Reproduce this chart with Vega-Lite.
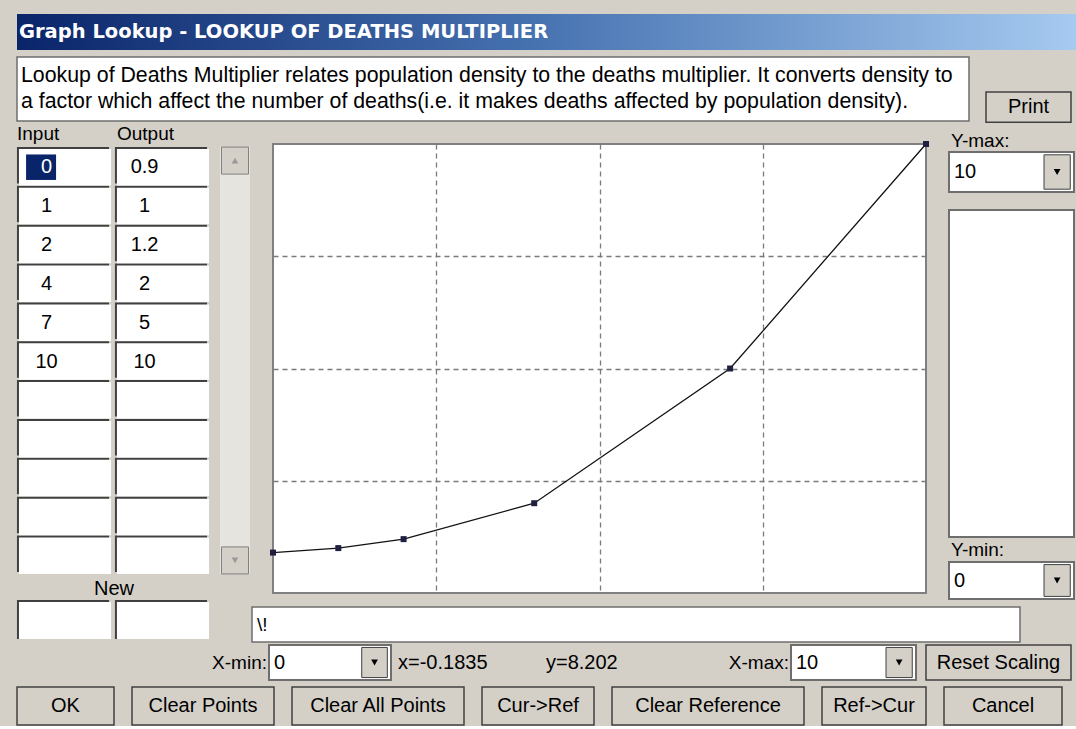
{
  "$schema": "https://vega.github.io/schema/vega-lite/v6.json",
  "background": "#d4d0c8",
  "padding": {"left": 16, "top": 14, "right": 0, "bottom": 0},
  "config": {
    "view": {"stroke": null},
    "text": {"font": "Liberation Sans", "fontSize": 20, "color": "#000000"}
  },
  "datasets": {
    "lookup": [
      {"input": 0, "output": 0.9},
      {"input": 1, "output": 1},
      {"input": 2, "output": 1.2},
      {"input": 4, "output": 2},
      {"input": 7, "output": 5},
      {"input": 10, "output": 10}
    ],
    "table": [
      {"row": 1, "Input": "0", "Output": "0.9"},
      {"row": 2, "Input": "1", "Output": "1"},
      {"row": 3, "Input": "2", "Output": "1.2"},
      {"row": 4, "Input": "4", "Output": "2"},
      {"row": 5, "Input": "7", "Output": "5"},
      {"row": 6, "Input": "10", "Output": "10"},
      {"row": 7, "Input": "", "Output": ""},
      {"row": 8, "Input": "", "Output": ""},
      {"row": 9, "Input": "", "Output": ""},
      {"row": 10, "Input": "", "Output": ""},
      {"row": 11, "Input": "", "Output": ""}
    ]
  },
  "spacing": 0,
  "vconcat": [
    {
      "width": 1060, "height": 36,
      "data": {"values": [{"title": "Graph Lookup - LOOKUP OF DEATHS MULTIPLIER"}]},
      "layer": [
        {
          "mark": {"type": "rect", "color": {"gradient": "linear", "x1": 0, "x2": 1, "y1": 0, "y2": 0, "stops": [{"offset": 0, "color": "#0a246a"}, {"offset": 0.5, "color": "#4874b2"}, {"offset": 1, "color": "#a6caf0"}]}},
          "encoding": {
            "x": {"datum": 0, "type": "quantitative", "scale": {"domain": [0, 1]}, "axis": null},
            "x2": {"datum": 1},
            "y": {"datum": 0, "type": "quantitative", "scale": {"domain": [0, 1]}, "axis": null},
            "y2": {"datum": 1}
          }
        },
        {
          "mark": {"type": "text", "align": "left", "dx": 2, "font": "DejaVu Sans", "fontWeight": "bold", "fontSize": 19.5, "color": "#ffffff"},
          "encoding": {
            "text": {"field": "title"},
            "x": {"datum": 0, "type": "quantitative", "axis": null}
          }
        }
      ]
    },
    {"width": 1, "height": 6, "data": {"values": [{}]}, "mark": {"type": "point", "size": 0, "opacity": 0}, "encoding": {}},
    {
      "hconcat": [
        {
          "width": 952, "height": 64,
          "view": {"fill": "#ffffff", "stroke": "#6e6e6e", "strokeWidth": 1.5},
          "data": {"values": [
            {"line": 1, "text": "Lookup of Deaths Multiplier relates population density to the deaths multiplier.  It converts density to"},
            {"line": 2, "text": "a factor which affect the number of deaths(i.e. it makes deaths affected by population density)."}
          ]},
          "mark": {"type": "text", "align": "left", "dx": 4, "fontSize": 21.3},
          "encoding": {
            "text": {"field": "text"},
            "x": {"datum": 0, "type": "quantitative", "scale": {"domain": [0, 1]}, "axis": null},
            "y": {"field": "line", "type": "ordinal", "axis": null, "scale": {"type": "point", "padding": 0.7}}
          }
        },
        {
          "width": 85, "height": 66,
          "data": {"values": [{"label": "Print"}]},
          "layer": [
            {
              "mark": {"type": "rect", "fill": "#d4d0c8", "stroke": "#404040", "strokeWidth": 1.5},
              "encoding": {
                "x": {"datum": 0, "type": "quantitative", "scale": {"domain": [0, 1]}, "axis": null},
                "x2": {"datum": 1},
                "y": {"datum": 0.01, "type": "quantitative", "scale": {"domain": [0, 1]}, "axis": null},
                "y2": {"datum": 0.47}
              }
            },
            {
              "mark": {"type": "text", "fontSize": 20},
              "encoding": {
                "text": {"field": "label"},
                "y": {"datum": 0.24, "type": "quantitative", "axis": null}
              }
            }
          ]
        }
      ],
      "spacing": 17,
      "bounds": "flush"
    },
    {
      "hconcat": [
        {
          "vconcat": [
            {
              "width": 194, "height": 20,
              "data": {"values": [{"col": "Input"}, {"col": "Output"}]},
              "mark": {"type": "text", "align": "left", "fontSize": 19},
              "encoding": {
                "text": {"field": "col"},
                "x": {"field": "col", "type": "nominal", "axis": null, "bandPosition": 0, "scale": {"type": "band", "paddingInner": 0.06, "paddingOuter": 0}}
              }
            },
            {
              "width": 194, "height": 429,
              "data": {"name": "table"},
              "transform": [{"fold": ["Input", "Output"], "as": ["col", "val"]}],
              "encoding": {
                "x": {"field": "col", "type": "nominal", "axis": null, "scale": {"type": "band", "paddingInner": 0.06, "paddingOuter": 0.02}},
                "y": {"field": "row", "type": "ordinal", "axis": null, "scale": {"type": "band", "paddingInner": 0.06, "paddingOuter": 0.05}}
              },
              "layer": [
                {"mark": {"type": "rect", "fill": "#404040", "xOffset": -2, "yOffset": -2}},
                {"mark": {"type": "rect", "fill": "#ffffff"}},
                {
                  "transform": [{"filter": "datum.row == 1 && datum.col == 'Input'"}],
                  "mark": {"type": "point", "shape": "M-1,-0.85L1,-0.85L1,0.85L-1,0.85Z", "size": 900, "filled": true, "color": "#0a246a", "opacity": 1},
                  "encoding": {
                    "x": {"field": "col", "type": "nominal", "bandPosition": 0.24},
                    "y": {"field": "row", "type": "ordinal", "bandPosition": 0.5}
                  }
                },
                {
                  "mark": {"type": "text", "fontSize": 20},
                  "encoding": {
                    "x": {"field": "col", "type": "nominal", "bandPosition": 0.3},
                    "y": {"field": "row", "type": "ordinal", "bandPosition": 0.5},
                    "text": {"field": "val"},
                    "color": {"condition": {"test": "datum.row == 1 && datum.col == 'Input'", "value": "#ffffff"}, "value": "#000000"}
                  }
                }
              ]
            },
            {
              "width": 194, "height": 20,
              "data": {"values": [{"t": "New"}]},
              "mark": {"type": "text", "fontSize": 20},
              "encoding": {"text": {"field": "t"}}
            },
            {
              "width": 194, "height": 37,
              "data": {"values": [{"col": "Input"}, {"col": "Output"}]},
              "encoding": {
                "x": {"field": "col", "type": "nominal", "axis": null, "scale": {"type": "band", "paddingInner": 0.06, "paddingOuter": 0.02}}
              },
              "layer": [
                {"mark": {"type": "rect", "fill": "#404040", "xOffset": -2, "yOffset": -2}},
                {"mark": {"type": "rect", "fill": "#ffffff"}}
              ]
            }
          ],
          "spacing": 3,
          "bounds": "flush"
        },
        {
          "vconcat": [
            {
              "hconcat": [
                {
                  "vconcat": [
                    {"width": 30, "height": 20, "data": {"values": [{}]}, "mark": {"type": "point", "size": 0, "opacity": 0}, "encoding": {}},
                    {
                      "width": 30, "height": 427,
                      "view": {"fill": "#e6e4df"},
                      "data": {"values": [{"dir": "up"}, {"dir": "down"}]},
                      "encoding": {
                        "y": {"field": "dir", "type": "nominal", "axis": null, "sort": ["up", "down"], "scale": {"type": "point", "padding": 0.034}}
                      },
                      "layer": [
                        {"mark": {"type": "square", "size": 729, "color": "#d4d0c8", "opacity": 1, "stroke": "#808080", "strokeWidth": 1}},
                        {
                          "mark": {"type": "point", "filled": true, "size": 45, "color": "#9a9a9a", "opacity": 1},
                          "encoding": {"shape": {"field": "dir", "type": "nominal", "scale": {"domain": ["up", "down"], "range": ["triangle-up", "triangle-down"]}, "legend": null}}
                        }
                      ]
                    }
                  ],
                  "spacing": 3,
                  "bounds": "flush"
                },
                {
                  "vconcat": [
                    {"width": 653, "height": 20, "data": {"values": [{}]}, "mark": {"type": "point", "size": 0, "opacity": 0}, "encoding": {}},
                    {
                      "width": 653, "height": 449,
                      "view": {"fill": "#ffffff", "stroke": "#808080", "strokeWidth": 2},
                      "data": {"name": "lookup"},
                      "encoding": {
                        "x": {"field": "input", "type": "quantitative", "title": null, "scale": {"domain": [0, 10], "nice": false, "zero": false},
                              "axis": {"values": [2.5, 5, 7.5], "grid": true, "labels": false, "ticks": false, "domain": false, "gridDash": [5, 4], "gridColor": "#7a7a7a", "gridWidth": 1.3, "gridOpacity": 1}},
                        "y": {"field": "output", "type": "quantitative", "title": null, "scale": {"domain": [0, 10], "nice": false, "zero": false},
                              "axis": {"values": [2.5, 5, 7.5], "grid": true, "labels": false, "ticks": false, "domain": false, "gridDash": [5, 4], "gridColor": "#7a7a7a", "gridWidth": 1.3, "gridOpacity": 1}}
                      },
                      "layer": [
                        {"mark": {"type": "line", "color": "#111111", "strokeWidth": 1.3}},
                        {"mark": {"type": "square", "size": 36, "color": "#1f2040", "opacity": 1, "filled": true}}
                      ]
                    }
                  ],
                  "spacing": 0,
                  "bounds": "flush"
                },
                {
                  "vconcat": [
                    {
                      "width": 125, "height": 25,
                      "data": {"values": [{"t": "Y-max:"}]},
                      "mark": {"type": "text", "align": "left", "dx": 2, "dy": 4, "fontSize": 19},
                      "encoding": {"text": {"field": "t"}, "x": {"datum": 0, "type": "quantitative", "scale": {"domain": [0, 1]}, "axis": null}}
                    },
                    {
                      "width": 125, "height": 40,
                      "view": {"fill": "#ffffff", "stroke": "#6e6e6e", "strokeWidth": 2},
                      "data": {"values": [{"v": "10"}]},
                      "layer": [
                        {
                          "mark": {"type": "text", "align": "left", "dx": 5, "fontSize": 20},
                          "encoding": {"text": {"field": "v"}, "x": {"datum": 0, "type": "quantitative", "scale": {"domain": [0, 1]}, "axis": null}}
                        },
                        {
                          "mark": {"type": "rect", "fill": "#d4d0c8", "stroke": "#404040", "strokeWidth": 1},
                          "encoding": {
                            "x": {"datum": 0.76, "type": "quantitative", "axis": null},
                            "x2": {"datum": 0.97},
                            "y": {"datum": 0.07, "type": "quantitative", "scale": {"domain": [0, 1]}, "axis": null},
                            "y2": {"datum": 0.93}
                          }
                        },
                        {
                          "mark": {"type": "point", "shape": "triangle-down", "filled": true, "color": "#000000", "size": 45, "opacity": 1},
                          "encoding": {"x": {"datum": 0.865, "type": "quantitative", "axis": null}}
                        }
                      ]
                    },
                    {"width": 125, "height": 12, "data": {"values": [{}]}, "mark": {"type": "point", "size": 0, "opacity": 0}, "encoding": {}},
                    {
                      "width": 125, "height": 327,
                      "view": {"fill": "#ffffff", "stroke": "#6e6e6e", "strokeWidth": 2},
                      "data": {"values": [{}]}, "mark": {"type": "point", "size": 0, "opacity": 0}, "encoding": {}
                    },
                    {
                      "width": 125, "height": 19,
                      "data": {"values": [{"t": "Y-min:"}]},
                      "mark": {"type": "text", "align": "left", "dx": 2, "fontSize": 19},
                      "encoding": {"text": {"field": "t"}, "x": {"datum": 0, "type": "quantitative", "scale": {"domain": [0, 1]}, "axis": null}}
                    },
                    {
                      "width": 125, "height": 37,
                      "view": {"fill": "#ffffff", "stroke": "#6e6e6e", "strokeWidth": 2},
                      "data": {"values": [{"v": "0"}]},
                      "layer": [
                        {
                          "mark": {"type": "text", "align": "left", "dx": 5, "fontSize": 20},
                          "encoding": {"text": {"field": "v"}, "x": {"datum": 0, "type": "quantitative", "scale": {"domain": [0, 1]}, "axis": null}}
                        },
                        {
                          "mark": {"type": "rect", "fill": "#d4d0c8", "stroke": "#404040", "strokeWidth": 1},
                          "encoding": {
                            "x": {"datum": 0.76, "type": "quantitative", "axis": null},
                            "x2": {"datum": 0.97},
                            "y": {"datum": 0.07, "type": "quantitative", "scale": {"domain": [0, 1]}, "axis": null},
                            "y2": {"datum": 0.93}
                          }
                        },
                        {
                          "mark": {"type": "point", "shape": "triangle-down", "filled": true, "color": "#000000", "size": 45, "opacity": 1},
                          "encoding": {"x": {"datum": 0.865, "type": "quantitative", "axis": null}}
                        }
                      ]
                    }
                  ],
                  "spacing": 3,
                  "bounds": "flush"
                }
              ],
              "spacing": 18
            },
            {
              "hconcat": [
                {"width": 11, "height": 35, "data": {"values": [{}]}, "mark": {"type": "point", "size": 0, "opacity": 0}, "encoding": {}},
                {
                  "width": 768, "height": 35,
                  "view": {"fill": "#ffffff", "stroke": "#6e6e6e", "strokeWidth": 1.5},
                  "data": {"values": [{"t": "\\!"}]},
                  "mark": {"type": "text", "align": "left", "dx": 5, "fontSize": 19},
                  "encoding": {"text": {"field": "t"}, "x": {"datum": 0, "type": "quantitative", "scale": {"domain": [0, 1]}, "axis": null}}
                }
              ],
              "spacing": 21,
              "bounds": "flush"
            }
          ],
          "spacing": 6
        }
      ],
      "spacing": 8
    },
    {"width": 1, "height": 1, "data": {"values": [{}]}, "mark": {"type": "point", "size": 0, "opacity": 0}, "encoding": {}},
    {
      "hconcat": [
        {
          "width": 252, "height": 35,
          "data": {"values": [{"t": "X-min:"}]},
          "mark": {"type": "text", "align": "right", "dx": -2, "fontSize": 19},
          "encoding": {"text": {"field": "t"}, "x": {"datum": 1, "type": "quantitative", "scale": {"domain": [0, 1]}, "axis": null}}
        },
        {
          "width": 122, "height": 35,
          "view": {"fill": "#ffffff", "stroke": "#6e6e6e", "strokeWidth": 2},
          "data": {"values": [{"v": "0"}]},
          "layer": [
            {
              "mark": {"type": "text", "align": "left", "dx": 5, "fontSize": 20},
              "encoding": {"text": {"field": "v"}, "x": {"datum": 0, "type": "quantitative", "scale": {"domain": [0, 1]}, "axis": null}}
            },
            {
              "mark": {"type": "rect", "fill": "#d4d0c8", "stroke": "#404040", "strokeWidth": 1},
              "encoding": {
                "x": {"datum": 0.76, "type": "quantitative", "axis": null},
                "x2": {"datum": 0.97},
                "y": {"datum": 0.07, "type": "quantitative", "scale": {"domain": [0, 1]}, "axis": null},
                "y2": {"datum": 0.93}
              }
            },
            {
              "mark": {"type": "point", "shape": "triangle-down", "filled": true, "color": "#000000", "size": 45, "opacity": 1},
              "encoding": {"x": {"datum": 0.865, "type": "quantitative", "axis": null}}
            }
          ]
        },
        {
          "width": 147, "height": 35,
          "data": {"values": [{"t": "x=-0.1835"}]},
          "mark": {"type": "text", "align": "left", "dx": 7, "fontSize": 20},
          "encoding": {"text": {"field": "t"}, "x": {"datum": 0, "type": "quantitative", "scale": {"domain": [0, 1]}, "axis": null}}
        },
        {
          "width": 185, "height": 35,
          "data": {"values": [{"t": "y=8.202"}]},
          "mark": {"type": "text", "align": "left", "dx": 8, "fontSize": 20},
          "encoding": {"text": {"field": "t"}, "x": {"datum": 0, "type": "quantitative", "scale": {"domain": [0, 1]}, "axis": null}}
        },
        {
          "width": 68, "height": 35,
          "data": {"values": [{"t": "X-max:"}]},
          "mark": {"type": "text", "align": "right", "dx": -2, "fontSize": 19},
          "encoding": {"text": {"field": "t"}, "x": {"datum": 1, "type": "quantitative", "scale": {"domain": [0, 1]}, "axis": null}}
        },
        {
          "width": 125, "height": 35,
          "view": {"fill": "#ffffff", "stroke": "#6e6e6e", "strokeWidth": 2},
          "data": {"values": [{"v": "10"}]},
          "layer": [
            {
              "mark": {"type": "text", "align": "left", "dx": 5, "fontSize": 20},
              "encoding": {"text": {"field": "v"}, "x": {"datum": 0, "type": "quantitative", "scale": {"domain": [0, 1]}, "axis": null}}
            },
            {
              "mark": {"type": "rect", "fill": "#d4d0c8", "stroke": "#404040", "strokeWidth": 1},
              "encoding": {
                "x": {"datum": 0.76, "type": "quantitative", "axis": null},
                "x2": {"datum": 0.97},
                "y": {"datum": 0.07, "type": "quantitative", "scale": {"domain": [0, 1]}, "axis": null},
                "y2": {"datum": 0.93}
              }
            },
            {
              "mark": {"type": "point", "shape": "triangle-down", "filled": true, "color": "#000000", "size": 45, "opacity": 1},
              "encoding": {"x": {"datum": 0.865, "type": "quantitative", "axis": null}}
            }
          ]
        },
        {"width": 10, "height": 35, "data": {"values": [{}]}, "mark": {"type": "point", "size": 0, "opacity": 0}, "encoding": {}},
        {
          "width": 145, "height": 35,
          "view": {"fill": "#d4d0c8", "stroke": "#404040", "strokeWidth": 1.5},
          "data": {"values": [{"label": "Reset Scaling"}]},
          "mark": {"type": "text", "fontSize": 20},
          "encoding": {"text": {"field": "label"}}
        }
      ],
      "spacing": 0,
      "bounds": "flush"
    },
    {"width": 1, "height": 5, "data": {"values": [{}]}, "mark": {"type": "point", "size": 0, "opacity": 0}, "encoding": {}},
    {
      "hconcat": [
        {"width": 97, "height": 38, "view": {"fill": "#d4d0c8", "stroke": "#404040", "strokeWidth": 1.5}, "data": {"values": [{"label": "OK"}]}, "mark": {"type": "text", "fontSize": 20}, "encoding": {"text": {"field": "label"}}},
        {"width": 142, "height": 38, "view": {"fill": "#d4d0c8", "stroke": "#404040", "strokeWidth": 1.5}, "data": {"values": [{"label": "Clear Points"}]}, "mark": {"type": "text", "fontSize": 20}, "encoding": {"text": {"field": "label"}}},
        {"width": 172, "height": 38, "view": {"fill": "#d4d0c8", "stroke": "#404040", "strokeWidth": 1.5}, "data": {"values": [{"label": "Clear All Points"}]}, "mark": {"type": "text", "fontSize": 20}, "encoding": {"text": {"field": "label"}}},
        {"width": 112, "height": 38, "view": {"fill": "#d4d0c8", "stroke": "#404040", "strokeWidth": 1.5}, "data": {"values": [{"label": "Cur->Ref"}]}, "mark": {"type": "text", "fontSize": 20}, "encoding": {"text": {"field": "label"}}},
        {"width": 192, "height": 38, "view": {"fill": "#d4d0c8", "stroke": "#404040", "strokeWidth": 1.5}, "data": {"values": [{"label": "Clear Reference"}]}, "mark": {"type": "text", "fontSize": 20}, "encoding": {"text": {"field": "label"}}},
        {"width": 104, "height": 38, "view": {"fill": "#d4d0c8", "stroke": "#404040", "strokeWidth": 1.5}, "data": {"values": [{"label": "Ref->Cur"}]}, "mark": {"type": "text", "fontSize": 20}, "encoding": {"text": {"field": "label"}}},
        {"width": 118, "height": 38, "view": {"fill": "#d4d0c8", "stroke": "#404040", "strokeWidth": 1.5}, "data": {"values": [{"label": "Cancel"}]}, "mark": {"type": "text", "fontSize": 20}, "encoding": {"text": {"field": "label"}}}
      ],
      "spacing": 18,
      "bounds": "flush"
    }
  ]
}
